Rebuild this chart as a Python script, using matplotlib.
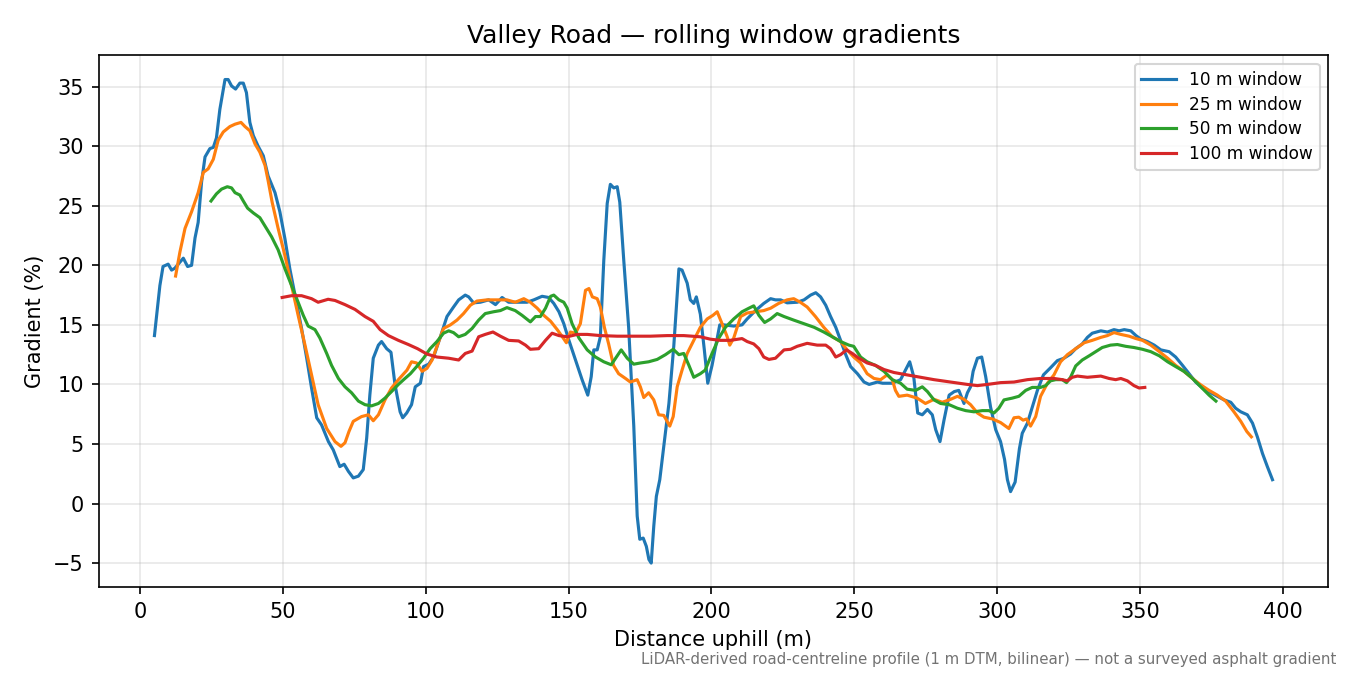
import matplotlib
matplotlib.use("Agg")
import matplotlib.pyplot as plt

# distance uphill (m) and gradient (%)
x10 = [5, 6.9, 8.0, 9.8, 11.0, 12.1, 15.1, 16.6, 18.0, 19.2, 20.3, 21.5, 22.7, 24.4, 25.6,
       26.7, 27.9, 29.7, 30.8, 32.0, 33.4, 34.9, 36.1, 37.2, 38.4, 39.6, 41.3, 43.1, 44.8,
       47.2, 48.9, 50.7, 52.4, 54.2, 56.5, 58.3, 60.0, 61.8, 63.5, 65.9, 67.6, 69.9, 71.4,
       72.9, 74.6, 76.4, 78.1, 79.3, 80.4, 81.6, 83.4, 84.5, 86.3, 87.8, 89.2, 91.0, 91.9,
       93.3, 95.0, 96.3, 98.1, 99.2, 101.0, 102.7, 105.1, 107.4, 109.7, 111.5, 113.8, 115.0,
       116.7, 119.1, 122.0, 124.4, 126.7, 129.0, 132.0, 135.4, 137.8, 140.7, 143.0, 144.8,
       146.6, 148.3, 150.1, 152.4, 154.7, 156.7, 157.9, 158.8, 160.0, 161.1, 162.3, 163.5,
       164.6, 165.8, 167.0, 167.9, 169.3, 171.0, 172.8, 174.0, 174.9, 176.1, 177.2, 178.1,
       178.9, 179.8, 180.7, 181.9, 183.3, 185.1, 186.8, 188.6, 189.7, 191.5, 192.6, 193.8,
       194.7, 196.1, 197.5, 198.7, 200.2, 202.0, 202.9, 204.3, 207.8, 210.7, 212.5, 215.4,
       218.3, 220.7, 222.4, 224.2, 226.5, 230.0, 232.4, 234.7, 236.5, 238.2, 240.0, 241.7,
       243.5, 245.2, 247.0, 248.7, 251.1, 253.4, 255.2, 258.1, 259.9, 263.3, 266.2, 267.9,
       269.4, 270.8, 272.2, 273.8, 275.6, 277.3, 278.5, 280.0, 281.4, 283.2, 285.0, 286.6,
       288.4, 289.6, 290.7, 291.6, 293.1, 294.6, 296.0, 297.7, 299.5, 301.2, 302.6, 303.6,
       304.7, 306.3, 307.8, 308.8, 310.6, 312.3, 314.1, 316.2, 318.7, 321.1, 323.4, 325.7,
       327.5, 329.8, 331.6, 333.3, 336.3, 338.6, 340.9, 342.7, 344.5, 346.8, 348.6, 350.3,
       352.6, 355.0, 357.3, 360.2, 362.5, 364.9, 367.2, 369.5, 371.9, 374.8, 377.1, 379.5,
       381.8, 383.5, 385.3, 387.6, 389.4, 391.1, 392.9, 394.6, 396.4]
g10 = [14.1, 18.3, 19.9, 20.1, 19.6, 19.75, 20.6, 19.9, 20.0, 22.3, 23.6, 27.0, 29.1, 29.8, 29.9,
       30.7, 33.1, 35.6, 35.6, 35.06, 34.8, 35.3, 35.3, 34.5, 32.0, 30.9, 30.0, 29.2, 27.5,
       26.1, 24.5, 22.2, 19.7, 17.5, 14.7, 12.2, 9.7, 7.2, 6.6, 5.2, 4.5, 3.1, 3.3,
       2.7, 2.15, 2.3, 2.85, 5.5, 9.1, 12.2, 13.3, 13.6, 13.0, 12.7, 10.0, 7.7, 7.2,
       7.6, 8.3, 9.8, 10.1, 11.5, 11.7, 12.3, 14.0, 15.7, 16.5, 17.1, 17.5, 17.35,
       16.85, 16.9, 17.1, 16.7, 17.3, 16.9, 16.9, 16.9, 17.1, 17.4, 17.3, 16.8,
       16.1, 15.1, 13.7, 12.05, 10.4, 9.1, 10.65, 12.9, 12.9, 14.0, 20.4, 25.2,
       26.8, 26.5, 26.6, 25.3, 20.4, 14.8, 6.5, -1.06, -3.0, -2.9, -3.6, -4.7,
       -5.0, -1.9, 0.6, 2.0, 4.8, 8.4, 13.2, 19.7, 19.6, 18.5, 17.1, 16.8,
       17.35, 15.9, 12.9, 10.1, 11.6, 13.9, 15.0, 15.0, 14.9, 15.0, 15.5, 16.2,
       16.8, 17.2, 17.1, 17.1, 16.85, 16.9, 17.1, 17.5, 17.7, 17.35, 16.65, 15.7,
       14.8, 13.7, 12.5, 11.5, 10.9, 10.2, 10.0, 10.2, 10.1, 10.1, 10.4, 11.2,
       11.9, 10.65, 7.6, 7.45, 7.9, 7.45, 6.2, 5.2, 7.0, 9.1, 9.4, 9.5,
       8.4, 9.3, 9.8, 11.1, 12.2, 12.3, 10.65, 8.1, 6.2, 5.2, 3.7, 2.0,
       1.0, 1.8, 4.6, 5.9, 6.75, 8.1, 9.5, 10.8, 11.4, 12.0, 12.2, 12.55,
       13.0, 13.4, 13.95, 14.3, 14.5, 14.4, 14.6, 14.5, 14.6, 14.5, 14.1, 13.8,
       13.6, 13.3, 12.9, 12.75, 12.3, 11.6, 10.9, 10.2, 9.7, 9.3, 9.0, 8.7,
       8.5, 8.0, 7.7, 7.45, 6.75, 5.6, 4.2, 3.1, 2.0]

x25 = [12.4, 13.9, 15.7, 18.0, 20.3, 22.1, 23.8, 25.6, 27.3, 29.1, 31.4, 33.2, 35.3, 36.7,
       38.4, 40.2, 41.9, 43.7, 44.8, 46.2, 48.3, 50.7, 53.0, 55.3, 57.7, 60.0, 62.3, 65.3,
       68.2, 70.3, 71.7, 73.1, 74.6, 77.5, 79.9, 81.6, 83.4, 85.7, 88.0, 90.4, 93.4, 95.0,
       96.8, 98.7, 100.4, 102.2, 103.9, 106.2, 108.6, 110.9, 113.2, 115.6, 117.9, 121.4,
       124.9, 128.4, 131.3, 134.3, 136.6, 139.0, 141.3, 143.7, 146.0, 147.8, 149.2, 150.6,
       152.4, 154.1, 155.9, 157.1, 158.3, 160.0, 161.1, 162.5, 164.0, 165.7, 167.5, 169.9,
       171.6, 174.0, 175.1, 176.3, 178.0, 179.8, 181.5, 183.3, 185.4, 186.6, 188.0, 189.7,
       191.5, 193.8, 196.1, 198.5, 200.5, 202.0, 203.7, 205.5, 206.4, 207.8, 210.2, 212.5,
       215.4, 218.3, 220.7, 223.5, 226.5, 228.8, 231.1, 233.5, 236.4, 239.3, 242.3, 245.2,
       247.5, 249.8, 252.2, 254.5, 256.9, 259.2, 261.5, 263.3, 264.4, 265.6, 268.5, 272.0,
       274.9, 277.9, 280.8, 283.7, 286.1, 288.4, 290.7, 293.1, 295.4, 298.4, 301.2, 304.1,
       305.9, 307.6, 309.1, 310.3, 311.7, 313.5, 315.2, 317.6, 319.9, 322.2, 324.6, 327.5,
       330.5, 333.3, 336.3, 338.6, 340.9, 343.3, 346.2, 348.6, 350.9, 353.8, 356.8, 359.7,
       362.5, 365.4, 368.4, 371.3, 374.2, 377.1, 380.0, 382.9, 385.3, 387.4, 389.0]
g25 = [19.1, 21.1, 23.1, 24.5, 26.1, 27.8, 28.1, 28.9, 30.5, 31.2, 31.65, 31.85, 32.0, 31.65,
       31.3, 30.2, 29.5, 28.4, 27.1, 25.3, 23.1, 20.8, 18.3, 15.8, 13.3, 10.8, 8.3, 6.3,
       5.2, 4.8, 5.1, 6.05, 6.9, 7.3, 7.45, 6.95, 7.45, 8.7, 9.7, 10.4, 11.2, 11.9,
       11.8, 11.1, 11.35, 12.05, 13.2, 14.7, 15.0, 15.4, 15.95, 16.65, 17.0, 17.1,
       17.1, 17.1, 16.9, 17.2, 16.9, 16.4, 15.8, 15.3, 14.6, 14.0, 13.5, 14.4,
       14.3, 15.1, 17.9, 18.05, 17.35, 17.2, 16.5, 14.8, 13.4, 11.6, 10.9, 10.5,
       10.2, 10.4, 9.8, 8.9, 9.3, 8.7, 7.45, 7.4, 6.5, 7.3, 9.8, 11.2,
       12.6, 13.7, 14.8, 15.5, 15.8, 16.1, 15.1, 14.0, 13.3, 13.9, 15.7, 16.0,
       16.1, 16.2, 16.4, 16.8, 17.1, 17.2, 16.9, 16.5, 15.7, 14.8, 14.0, 13.6,
       12.9, 12.3, 11.8, 10.9, 10.5, 10.4, 10.8, 10.4, 9.5, 9.0, 9.1, 8.85,
       8.4, 8.75, 8.5, 8.75, 9.0, 8.75, 8.3, 7.6, 7.25, 7.1, 6.8, 6.3,
       7.2, 7.25, 7.0, 7.1, 6.5, 7.3, 9.0, 10.1, 10.8, 11.9, 12.5, 13.0,
       13.5, 13.7, 13.95, 14.1, 14.35, 14.2, 14.05, 13.85, 13.7, 13.3, 12.75, 12.2,
       11.6, 11.1, 10.5, 9.96, 9.5, 9.1, 8.6, 7.7, 6.9, 6.05, 5.6]

x50 = [24.8, 26.7, 28.5, 30.5, 32.0, 33.2, 34.9, 36.1, 37.6, 39.6, 41.9, 43.7, 46.0, 48.3,
       50.7, 53.0, 55.3, 57.1, 58.8, 61.2, 62.9, 65.3, 67.0, 69.4, 71.7, 74.0, 76.4, 78.7,
       81.0, 83.4, 85.7, 88.0, 90.4, 92.7, 94.6, 96.8, 99.2, 101.5, 103.9, 106.2, 108.0,
       109.7, 111.5, 113.8, 116.2, 118.5, 120.8, 123.7, 126.1, 128.4, 131.3, 133.7, 136.6,
       138.4, 140.1, 141.9, 143.7, 144.8, 146.6, 148.3, 149.5, 151.2, 153.6, 156.5, 159.4,
       162.3, 164.9, 166.7, 168.4, 170.5, 172.8, 175.1, 178.0, 181.0, 183.9, 186.6, 188.6,
       190.3, 192.1, 193.8, 196.1, 197.8, 200.2, 202.6, 204.9, 207.8, 210.7, 213.1, 214.8,
       216.6, 218.6, 220.7, 223.0, 225.4, 228.8, 232.4, 235.9, 239.3, 242.3, 245.2, 248.1,
       249.8, 252.2, 254.5, 257.4, 260.4, 263.3, 266.2, 268.5, 271.5, 273.8, 275.6, 277.9,
       280.2, 283.2, 286.1, 289.0, 291.9, 294.8, 297.1, 298.9, 300.6, 302.4, 305.3, 307.6,
       310.0, 312.3, 315.2, 317.0, 318.7, 320.5, 322.8, 324.3, 325.7, 327.5, 329.8, 332.2,
       334.5, 336.8, 339.7, 342.1, 345.0, 347.9, 350.9, 353.8, 356.8, 359.7, 362.5, 365.4,
       368.4, 371.3, 374.2, 376.6]
g50 = [25.4, 26.0, 26.4, 26.6, 26.5, 26.1, 25.9, 25.4, 24.8, 24.4, 24.0, 23.3, 22.4, 21.3,
       19.7, 18.3, 16.9, 15.8, 14.9, 14.6, 13.9, 12.6, 11.6, 10.5, 9.8, 9.3, 8.6, 8.3,
       8.2, 8.4, 8.85, 9.4, 10.0, 10.5, 10.9, 11.5, 12.2, 13.0, 13.6, 14.3, 14.5,
       14.35, 14.0, 14.2, 14.7, 15.4, 15.95, 16.1, 16.2, 16.45, 16.2, 15.8, 15.25,
       15.7, 15.7, 16.4, 17.4, 17.5, 17.1, 16.9, 16.4, 15.1, 13.9, 12.9, 12.3,
       11.9, 11.65, 12.3, 12.9, 12.2, 11.7, 11.8, 11.9, 12.1, 12.5, 12.95, 12.5,
       12.6, 11.6, 10.6, 10.9, 11.2, 12.6, 13.9, 14.8, 15.5, 16.1, 16.4, 16.6,
       15.8, 15.2, 15.5, 15.95, 15.7, 15.4, 15.1, 14.8, 14.4, 14.0, 13.6, 13.3,
       13.2, 12.3, 11.9, 11.6, 11.1, 10.4, 10.1, 9.6, 9.5, 9.8, 9.4, 8.7,
       8.4, 8.3, 8.0, 7.8, 7.7, 7.8, 7.8, 7.6, 8.0, 8.7, 8.85, 9.0,
       9.5, 9.75, 9.75, 9.9, 10.3, 10.4, 10.4, 10.15, 10.6, 11.55, 12.05, 12.4,
       12.75, 13.1, 13.3, 13.35, 13.2, 13.1, 12.95, 12.75, 12.4, 11.9, 11.5, 11.1,
       10.5, 9.8, 9.1, 8.6]

x100 = [49.7, 53.0, 56.5, 60.0, 62.3, 65.8, 68.2, 71.7, 75.2, 78.7, 81.6, 84.0, 86.9, 90.4,
        93.9, 97.1, 100.4, 103.9, 108.0, 111.5, 113.8, 116.2, 118.5, 120.8, 123.5, 126.1,
        129.0, 132.5, 134.9, 136.6, 139.5, 141.9, 144.2, 146.6, 149.5, 153.0, 156.5, 161.1,
        167.0, 172.8, 178.6, 184.5, 190.3, 196.1, 199.6, 203.1, 206.6, 210.7, 212.5, 214.8,
        216.6, 218.3, 220.1, 222.4, 225.4, 227.7, 230.0, 233.5, 237.0, 240.0, 241.7, 243.5,
        245.2, 247.3, 249.3, 251.6, 254.5, 257.4, 260.4, 263.9, 268.5, 273.2, 277.9, 283.7,
        289.6, 293.1, 296.6, 301.2, 305.9, 310.6, 315.2, 319.9, 322.8, 324.6, 326.3, 328.1,
        331.6, 336.3, 339.2, 341.5, 343.3, 345.6, 347.9, 349.7, 351.7]
g100 = [17.3, 17.45, 17.45, 17.2, 16.9, 17.15, 17.05, 16.7, 16.3, 15.7, 15.3, 14.6, 14.1, 13.7,
        13.35, 13.0, 12.55, 12.3, 12.2, 12.05, 12.6, 12.8, 14.0, 14.2, 14.4, 14.05,
        13.7, 13.65, 13.3, 12.95, 13.0, 13.7, 14.3, 14.1, 14.0, 14.2, 14.2, 14.1,
        14.05, 14.05, 14.05, 14.1, 14.1, 14.0, 13.8, 13.7, 13.7, 13.85, 13.6, 13.4,
        13.0, 12.3, 12.1, 12.2, 12.9, 12.95, 13.2, 13.45, 13.3, 13.3, 13.0, 12.3,
        12.5, 12.9, 12.6, 12.2, 11.8, 11.6, 11.25, 11.0, 10.8, 10.6, 10.4, 10.2,
        10.0, 9.9, 10.0, 10.15, 10.2, 10.4, 10.5, 10.5, 10.4, 10.3, 10.6, 10.7,
        10.6, 10.7, 10.5, 10.4, 10.5, 10.3, 9.9, 9.7, 9.75]

fig, ax = plt.subplots(figsize=(9, 4.5), dpi=150)
ax.plot(x10, g10, lw=1.5, label="10 m window")
ax.plot(x25, g25, lw=1.5, label="25 m window")
ax.plot(x50, g50, lw=1.5, label="50 m window")
ax.plot(x100, g100, lw=1.5, label="100 m window")

ax.set_title("Valley Road — rolling window gradients", fontsize=12)
ax.set_xlabel("Distance uphill (m)")
ax.set_ylabel("Gradient (%)")
ax.grid(True, alpha=0.3)
ax.legend(loc="upper right", fontsize=8.2, labelspacing=0.4)

fig.text(0.99, 0.012, "LiDAR-derived road-centreline profile (1 m DTM, bilinear) — not a surveyed asphalt gradient",
         ha="right", va="bottom", fontsize=7.2, color="0.45")

fig.subplots_adjust(left=0.073, right=0.984, top=0.918, bottom=0.13)
fig.savefig("out.png", dpi=150)
